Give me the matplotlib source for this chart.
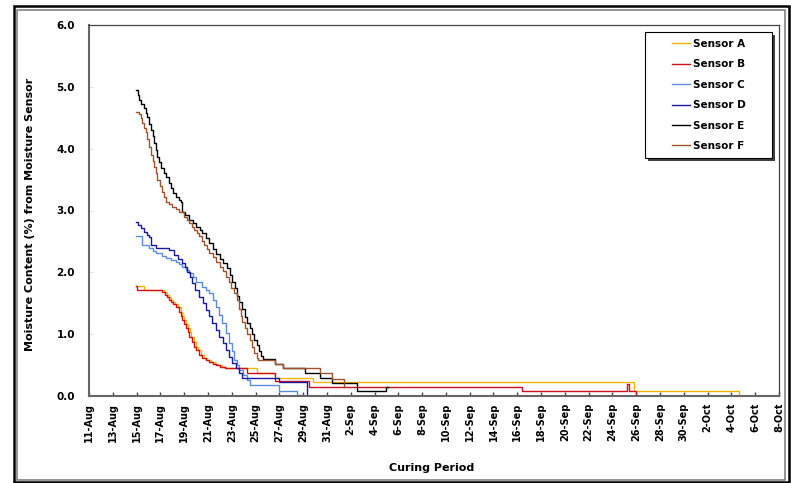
import matplotlib
matplotlib.use("Agg")
import matplotlib.pyplot as plt
from matplotlib.patches import Rectangle

# days counted from 11-Aug, value = moisture content (%)
a_day = [3.96, 4.64, 6.3, 6.55, 6.73, 6.9, 7.06, 7.25, 7.49, 7.74, 7.85, 7.99, 8.15, 8.33,
         8.45, 8.58, 8.83, 9.0, 9.17, 9.42, 9.68, 9.95, 10.25, 10.55, 10.85, 11.2, 11.55,
         14.1, 15.6, 18.8, 45.8, 54.6, 54.7]
a_val = [1.78, 1.72, 1.68, 1.64, 1.60, 1.56, 1.52, 1.48, 1.44, 1.36, 1.30, 1.23, 1.16, 1.10,
         1.03, 0.96, 0.87, 0.80, 0.74, 0.66, 0.61, 0.58, 0.55, 0.52, 0.50, 0.47, 0.45,
         0.37, 0.29, 0.23, 0.08, 0.0, 0.0]

b_day = [3.96, 4.05, 6.16, 6.4, 6.58, 6.75, 6.91, 7.1, 7.34, 7.59, 7.7, 7.84, 8.0, 8.18,
         8.3, 8.43, 8.68, 8.85, 9.02, 9.27, 9.53, 9.8, 10.1, 10.4, 10.7, 11.05, 11.4,
         13.24, 15.6, 18.5, 36.4, 45.2, 45.35, 46.0, 46.1]
b_val = [1.78, 1.72, 1.68, 1.64, 1.60, 1.56, 1.52, 1.48, 1.44, 1.36, 1.30, 1.23, 1.16, 1.10,
         1.03, 0.96, 0.87, 0.80, 0.74, 0.66, 0.61, 0.58, 0.55, 0.52, 0.50, 0.47, 0.45,
         0.37, 0.25, 0.15, 0.08, 0.20, 0.08, 0.0, 0.0]

c_day = [3.96, 4.47, 5.06, 5.35, 5.65, 6.1, 6.49, 6.9, 7.34, 7.6, 7.84, 8.15, 8.43, 8.7,
         9.02, 9.53, 9.8, 10.1, 10.4, 10.7, 10.95, 11.2, 11.5, 11.8, 12.0, 12.2, 12.45,
         12.65, 12.95, 13.24, 13.5, 16.0, 17.5, 17.7]
c_val = [2.59, 2.44, 2.40, 2.35, 2.31, 2.27, 2.23, 2.20, 2.17, 2.13, 2.09, 2.04, 1.99, 1.92,
         1.84, 1.77, 1.72, 1.67, 1.56, 1.44, 1.31, 1.18, 1.02, 0.86, 0.72, 0.58, 0.50,
         0.42, 0.34, 0.26, 0.17, 0.08, 0.02, 0.02]

d_day = [3.96, 4.15, 4.38, 4.6, 4.89, 5.05, 5.23, 5.65, 6.75, 7.17, 7.5, 7.84, 8.05, 8.26,
         8.45, 8.68, 8.95, 9.27, 9.55, 9.87, 10.1, 10.37, 10.65, 10.96, 11.25, 11.55, 11.8,
         12.06, 12.35, 12.65, 12.9, 16.0, 18.3, 18.4]
d_val = [2.82, 2.77, 2.72, 2.66, 2.60, 2.57, 2.44, 2.39, 2.36, 2.28, 2.22, 2.15, 2.08, 2.00,
         1.92, 1.83, 1.72, 1.60, 1.50, 1.39, 1.29, 1.18, 1.07, 0.95, 0.85, 0.74, 0.63,
         0.53, 0.45, 0.37, 0.29, 0.22, 0.0, 0.0]

e_day = [3.96, 4.1, 4.22, 4.4, 4.64, 4.75, 4.89, 5.05, 5.23, 5.35, 5.48, 5.6, 5.73, 5.9,
         6.07, 6.3, 6.49, 6.7, 6.91, 7.1, 7.34, 7.55, 7.76, 7.84, 8.1, 8.43, 8.7, 9.02,
         9.3, 9.53, 9.8, 10.1, 10.4, 10.7, 11.0, 11.3, 11.6, 11.85, 12.06, 12.25, 12.45,
         12.65, 12.9, 13.1, 13.3, 13.5, 13.7, 13.9, 14.08, 14.3, 14.45, 14.6,
         15.6, 16.27, 18.13, 19.4, 20.4, 22.5, 25.0, 25.1]
e_val = [4.95, 4.87, 4.79, 4.72, 4.66, 4.58, 4.51, 4.40, 4.30, 4.20, 4.09, 3.98, 3.87, 3.78,
         3.69, 3.61, 3.54, 3.45, 3.36, 3.29, 3.22, 3.17, 3.14, 2.98, 2.92, 2.85, 2.79, 2.73,
         2.68, 2.63, 2.55, 2.47, 2.38, 2.30, 2.22, 2.15, 2.07, 1.95, 1.85, 1.74, 1.62,
         1.52, 1.40, 1.28, 1.18, 1.10, 1.00, 0.90, 0.82, 0.72, 0.65, 0.60,
         0.52, 0.45, 0.37, 0.29, 0.21, 0.08, 0.14, 0.14]

f_day = [3.96, 4.2, 4.38, 4.47, 4.65, 4.81, 4.89, 5.05, 5.23, 5.35, 5.48, 5.6, 5.73, 5.95,
         6.16, 6.3, 6.49, 6.75, 7.0, 7.3, 7.59, 8.0, 8.2, 8.43, 8.65, 8.85, 9.05, 9.27,
         9.5, 9.7, 9.9, 10.1, 10.4, 10.7, 11.0, 11.3, 11.55, 11.75, 11.95, 12.15, 12.4,
         12.6, 12.75, 12.9, 13.1, 13.3, 13.5, 13.7, 13.9, 14.08, 14.2,
         15.6, 16.3, 19.4, 20.4, 21.4, 21.5]
f_val = [4.60, 4.56, 4.50, 4.41, 4.34, 4.27, 4.15, 4.02, 3.90, 3.80, 3.70, 3.60, 3.49, 3.40,
         3.30, 3.22, 3.14, 3.10, 3.06, 3.02, 2.98, 2.90, 2.85, 2.80, 2.74, 2.69, 2.63, 2.58,
         2.51, 2.44, 2.37, 2.31, 2.25, 2.17, 2.09, 2.02, 1.93, 1.84, 1.74, 1.66, 1.55,
         1.40, 1.30, 1.20, 1.10, 1.00, 0.90, 0.80, 0.70, 0.61, 0.58,
         0.52, 0.45, 0.37, 0.27, 0.15, 0.15]

sensors = ["Sensor A", "Sensor B", "Sensor C", "Sensor D", "Sensor E", "Sensor F"]
colors = ["#F2B400", "#CC1020", "#5B8ED8", "#1A1AA0", "#000000", "#A0522D"]

tick_days = list(range(0, 59, 2))
tick_labels = ["11-Aug", "13-Aug", "15-Aug", "17-Aug", "19-Aug", "21-Aug", "23-Aug",
               "25-Aug", "27-Aug", "29-Aug", "31-Aug", "2-Sep", "4-Sep", "6-Sep", "8-Sep",
               "10-Sep", "12-Sep", "14-Sep", "16-Sep", "18-Sep", "20-Sep", "22-Sep",
               "24-Sep", "26-Sep", "28-Sep", "30-Sep", "2-Oct", "4-Oct", "6-Oct", "8-Oct"]
y_ticks = [0.0, 1.0, 2.0, 3.0, 4.0, 5.0, 6.0]

W, H = 791, 483
fig = plt.figure(figsize=(W / 100, H / 100), dpi=100)


def fx(px):
    return px / W


def fy(py):
    return 1 - py / H


# outer frame of the picture
fig.patches.append(Rectangle((fx(13.5), fy(481.5)), fx(775.5), fy(5.5) - fy(481.5),
                             transform=fig.transFigure, fill=False, ec="black", lw=1.8))
fig.patches.append(Rectangle((fx(17), fy(479.5)), fx(768), fy(9.5) - fy(479.5),
                             transform=fig.transFigure, fill=False, ec="#777777", lw=1.1))

ax = fig.add_axes([fx(89), fy(396), fx(779 - 89), fy(25) - fy(396)])
series = [(a_day, a_val), (b_day, b_val), (c_day, c_val),
          (d_day, d_val), (e_day, e_val), (f_day, f_val)]
for (d, v), name, col in zip(series, sensors, colors):
    ax.plot(d, v, drawstyle="steps-post", color=col, lw=1.0, label=name)

ax.set_xlim(0, 58)
ax.set_ylim(0, 6)
ax.set_xticks(tick_days)
ax.set_xticklabels(tick_labels, rotation=90, fontsize=7, fontweight="bold")
ax.set_yticks(y_ticks)
ax.set_yticklabels([f"{t:.1f}" for t in y_ticks], fontsize=7.5, fontweight="bold")
ax.tick_params(axis="x", direction="in", length=3, width=1, color="#444444", pad=5)
ax.tick_params(axis="y", direction="in", length=3, width=0.6, color="#dddddd", pad=10)
for side in ["top", "right"]:
    ax.spines[side].set_color("#444444")
    ax.spines[side].set_linewidth(0.9)
for side in ["left", "bottom"]:
    ax.spines[side].set_color("#666666")
    ax.spines[side].set_linewidth(1.5)

fig.text(fx(30), fy(214), "Moisture Content (%) from Moisture Sensor", rotation=90,
         ha="center", va="center", fontsize=8, fontweight="bold")
fig.text(fx(432), fy(468), "Curing Period", ha="center", va="center",
         fontsize=8, fontweight="bold")

# legend box with drop shadow
ax.add_patch(Rectangle((fx(648), fy(161)), fx(127), fy(35) - fy(161),
                       transform=fig.transFigure, fc="#404040", ec="none",
                       zorder=6, clip_on=False))
ax.add_patch(Rectangle((fx(645), fy(158)), fx(127), fy(32) - fy(158),
                       transform=fig.transFigure, fc="white", ec="black", lw=0.8,
                       zorder=7, clip_on=False))
leg = ax.legend(loc="center", bbox_to_anchor=(fx(709), fy(95)), bbox_transform=fig.transFigure,
                frameon=False, prop={"size": 7.5, "weight": "bold"}, handlelength=1.7,
                handletextpad=0.3, labelspacing=1.0)
leg.set_zorder(8)

fig.savefig("out.png", dpi=100)
